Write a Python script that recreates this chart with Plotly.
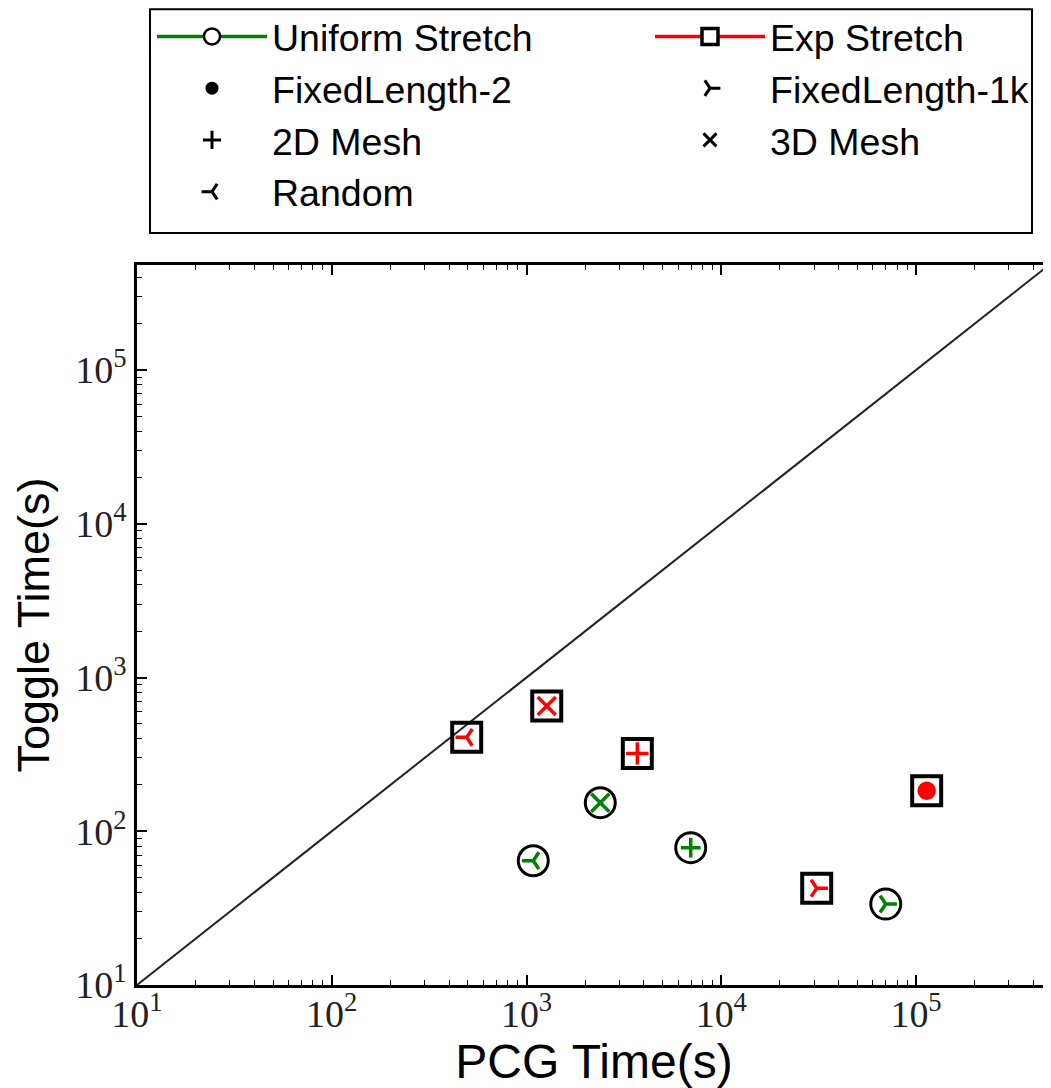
import plotly.graph_objects as go

# ---- data ----
uniform_types = ["Random", "3D Mesh", "2D Mesh", "FixedLength-1k"]
uniform_pcg = [1083, 2392, 6968, 69900]
uniform_toggle = [64.3, 153.4, 78.2, 33.6]

exp_types = ["Random", "3D Mesh", "2D Mesh", "FixedLength-1k", "FixedLength-2"]
exp_pcg = [493, 1270, 3706, 30900, 113400]
exp_toggle = [408, 653, 321, 42.6, 183.5]

diag_vals = [10, 1e6]

major_ticks = [10, 100, 1000, 10000, 100000]
major_text = ["10<sup>1</sup>", "10<sup>2</sup>", "10<sup>3</sup>", "10<sup>4</sup>", "10<sup>5</sup>"]
minor_ticks = [m * 10 ** k for k in range(1, 6) for m in range(2, 10)]

legend_col1 = ["Uniform Stretch", "FixedLength-2", "2D Mesh", "Random"]
legend_col2 = ["Exp Stretch", "FixedLength-1k", "3D Mesh"]

# ---- styles ----
GREEN = "#008000"
RED = "#ff0000"
symbol_of = {"Random": "y-left", "FixedLength-1k": "y-right", "2D Mesh": "cross-thin",
             "3D Mesh": "x-thin", "FixedLength-2": "circle"}
size_of = {"Random": 14, "FixedLength-1k": 14, "2D Mesh": 14, "3D Mesh": 18, "FixedLength-2": 15}

fig = go.Figure()

# diagonal y = x
fig.add_trace(go.Scatter(x=diag_vals, y=diag_vals, mode="lines",
                         line=dict(color="#222222", width=2), showlegend=False, hoverinfo="skip"))

# outer circles (Uniform Stretch)
fig.add_trace(go.Scatter(x=uniform_pcg, y=uniform_toggle, mode="markers", showlegend=False,
                         marker=dict(symbol="circle-open", size=30, color="black", opacity=1,
                                     line=dict(color="black", width=3))))
# inner markers (Uniform Stretch)
fig.add_trace(go.Scatter(x=uniform_pcg, y=uniform_toggle, mode="markers", showlegend=False,
                         marker=dict(symbol=[symbol_of[t] for t in uniform_types],
                                     size=[size_of[t] for t in uniform_types], color=GREEN, opacity=1,
                                     line=dict(color=GREEN, width=3.5))))
# outer squares (Exp Stretch)
fig.add_trace(go.Scatter(x=exp_pcg, y=exp_toggle, mode="markers", showlegend=False,
                         marker=dict(symbol="square-open", size=29, color="black", opacity=1,
                                     line=dict(color="black", width=4))))
# inner markers (Exp Stretch)
fig.add_trace(go.Scatter(x=exp_pcg, y=exp_toggle, mode="markers", showlegend=False,
                         marker=dict(symbol=[symbol_of[t] for t in exp_types],
                                     size=[size_of[t] + (2 if t == "2D Mesh" else 0) for t in exp_types],
                                     color=RED, opacity=1, line=dict(color=RED, width=3.5))))

# legend proxies
def proxy(name, legend):
    if name == "Uniform Stretch":
        return go.Scatter(x=[None], y=[None], name=name, mode="lines+markers", legend=legend,
                          line=dict(color=GREEN, width=3.5),
                          marker=dict(symbol="circle", size=16, color="white",
                                      line=dict(color="black", width=2.5)))
    if name == "Exp Stretch":
        return go.Scatter(x=[None], y=[None], name=name, mode="lines+markers", legend=legend,
                          line=dict(color=RED, width=3.5),
                          marker=dict(symbol="square", size=16, color="white",
                                      line=dict(color="black", width=3.5)))
    return go.Scatter(x=[None], y=[None], name=name, mode="markers", legend=legend,
                      marker=dict(symbol=symbol_of[name],
                                  size=13 if name != "FixedLength-2" else 10,
                                  color="black", line=dict(color="black", width=3)))

for n in legend_col1:
    fig.add_trace(proxy(n, "legend"))
for n in legend_col2:
    fig.add_trace(proxy(n, "legend2"))

OFF = 8  # page body margin
W, H = 1051 - OFF, 1088 - OFF
L, R, T = 137 - OFF, 0, 265 - OFF
B = H - (985 - OFF)
PW, PH = W - L - R, H - T - B


def px_x(p):
    """reference page pixel -> paper x"""
    return (p - OFF - L) / PW


def px_y(p):
    """reference page pixel -> paper y"""
    return (H - B - (p - OFF)) / PH


legend_font = dict(family="Liberation Sans, Arial, sans-serif", size=37.5, color="black")

fig.update_layout(
    width=W, height=H,
    margin=dict(l=L, r=R, t=T, b=B, autoexpand=False),
    paper_bgcolor="white", plot_bgcolor="white",
    showlegend=True,
    legend=dict(x=px_x(152), y=px_y(5.5), xanchor="left", yanchor="top", orientation="v",
                bgcolor="rgba(0,0,0,0)", borderwidth=0, font=legend_font, itemwidth=110,
                itemclick=False, itemdoubleclick=False),
    legend2=dict(x=px_x(650), y=px_y(5.5), xanchor="left", yanchor="top", orientation="v",
                 bgcolor="rgba(0,0,0,0)", borderwidth=0, font=legend_font, itemwidth=110,
                 itemclick=False, itemdoubleclick=False),
    shapes=[dict(type="rect", xref="paper", yref="paper",
                 x0=px_x(150), x1=px_x(1032), y0=px_y(233), y1=px_y(9.2),
                 line=dict(color="black", width=2), fillcolor="rgba(0,0,0,0)", layer="above")],
)

tick_font = dict(family="Liberation Serif, Times New Roman, serif", size=38, color="#222222")
xtitle_font = dict(family="Liberation Sans, Arial, sans-serif", size=48, color="black")
ytitle_font = dict(family="Liberation Sans, Arial, sans-serif", size=45, color="black")

fig.update_xaxes(type="log", range=[1, 5.693], showgrid=False, zeroline=False,
                 showline=True, linecolor="black", linewidth=2.5, mirror="allticks",
                 ticks="inside", ticklen=10, tickwidth=1.5, tickcolor="black",
                 tickvals=major_ticks, ticktext=major_text, tickfont=tick_font,
                 ticklabelstandoff=-6,
                 minor=dict(tickvals=minor_ticks, ticks="inside", ticklen=5, tickwidth=1.2,
                            tickcolor="black", showgrid=False),
                 title=dict(text="PCG Time(s)", font=xtitle_font, standoff=4))
fig.update_yaxes(type="log", range=[1, 5.683], showgrid=False, zeroline=False,
                 showline=True, linecolor="black", linewidth=2.5, mirror=False,
                 ticks="inside", ticklen=10, tickwidth=1.5, tickcolor="black",
                 tickvals=major_ticks, ticktext=major_text, tickfont=tick_font,
                 minor=dict(tickvals=minor_ticks, ticks="inside", ticklen=5, tickwidth=1.2,
                            tickcolor="black", showgrid=False),
                 title=dict(text="Toggle Time(s)", font=ytitle_font, standoff=12))

fig.write_html("out.html")
